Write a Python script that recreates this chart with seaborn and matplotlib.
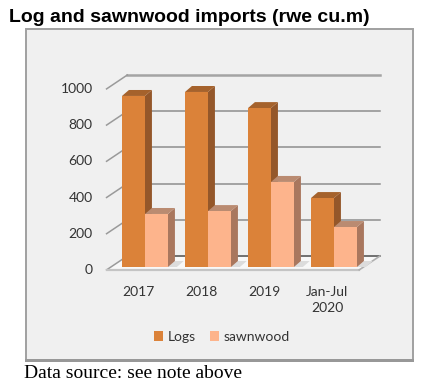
import matplotlib
matplotlib.use("Agg")
import pandas as pd
import seaborn as sns
import matplotlib.pyplot as plt
from matplotlib.patches import Rectangle
from matplotlib.transforms import ScaledTranslation

years = ["2017", "2018", "2019", "Jan-Jul\n2020"]
logs = [945, 967, 878, 381]
sawnwood = [293, 309, 470, 221]
y_ticks = [0, 200, 400, 600, 800, 1000]

# colours: front, side, top
logs_col = ["#db8239", "#94572a", "#a5622c"]
sawn_col = ["#fdb48c", "#a9775e", "#ba8b71"]

df = pd.DataFrame({"year": years * 2,
                   "value": logs + sawnwood,
                   "kind": ["Logs"] * 4 + ["sawnwood"] * 4})

W, H = 430, 390
fig = plt.figure(figsize=(W / 100, H / 100), dpi=100)
fig.patch.set_facecolor("white")

# grey panel behind the chart
fig.add_artist(Rectangle((25.5 / W, 1 - 360 / H), 387.5 / W, 331 / H,
                         transform=fig.transFigure, facecolor="#f0f0f0",
                         edgecolor="#a0a0a0", linewidth=1.4, zorder=-1))
# the bottom edge is heavier in the original
fig.add_artist(Rectangle((24.5 / W, 1 - 362 / H), 389.5 / W, 3 / H,
                         transform=fig.transFigure, facecolor="#989898",
                         edgecolor="none", zorder=-0.5))

# 63 px per category, 0.181 px per unit
ax = fig.add_axes([113.5 / W, 1 - 267 / H, 252 / W, 181 / H])
ax.patch.set_visible(False)

sns.barplot(data=df, x="year", y="value", hue="kind", ax=ax, width=0.73, gap=0,
            palette=[logs_col[0], sawn_col[0]], saturation=1, legend=False)

ax.set_xlim(-0.5, 3.5)
ax.set_ylim(0, 1000)

dx, dy = 0.11, 33      # depth of a bar
wall_x, wall_y = 0.33, 77   # depth of the floor
x0, x1 = -0.61, 3.40   # front floor edge
y0 = -16

# floor
ax.fill([x0, x1, x1 + wall_x, x0 + wall_x], [y0, y0, y0 + wall_y, y0 + wall_y],
        facecolor="#f8f8f8", edgecolor="none", clip_on=False, zorder=1)
ax.plot([x0 + wall_x, x1 + wall_x], [y0 + wall_y] * 2, color="#707070", lw=1.4, clip_on=False, zorder=1.2)
ax.plot([x0, x1], [y0, y0], color="#c4c4c4", lw=1.6, clip_on=False, zorder=1.2)
ax.plot([x1, x1 + wall_x], [y0, y0 + wall_y], color="#b0b0b0", lw=1.2, clip_on=False, zorder=1.2)

# back gridlines and the short diagonal bits on the left wall
for v in y_ticks:
    if v > 0:
        ax.plot([x0 + wall_x, x1 + wall_x], [v + y0 + wall_y] * 2, clip_on=False, zorder=1,
                color="#a4a4a4" if v == 1000 else "#8e8e8e", lw=1.8 if v == 1000 else 1.1)
    ax.plot([x0, x0 + wall_x], [v + y0, v + y0 + wall_y], color="#9a9a9a", lw=1.1,
            clip_on=False, zorder=1)

# side and top faces from the seaborn bars
for cont, cols, z in zip(ax.containers, [logs_col, sawn_col], [2, 3]):
    for p in cont:
        l, r, t = p.get_x(), p.get_x() + p.get_width(), p.get_height()
        p.set_zorder(4)
        ax.fill([r, r + dx, r + dx, r], [0, dy, t + dy, t], color=cols[1], lw=0, clip_on=False, zorder=z)
        ax.fill([l, l + dx, r + dx, r], [t, t + dy, t + dy, t], color=cols[2], lw=0, clip_on=False, zorder=z)
        ax.fill([r, r + 0.14, r + 0.25, r + dx], [0, 0, dy, dy], color="#dcdcdc", lw=0, clip_on=False, zorder=1.5)

for s in ax.spines.values():
    s.set_visible(False)
ax.set_xlabel("")
ax.set_ylabel("")
ax.set_yticks(y_ticks)
ax.set_yticklabels([str(v) for v in y_ticks])
ax.tick_params(length=0, labelsize=10, labelcolor="#333333", labelfontfamily="Lato")
ax.tick_params(axis="y", pad=15)
ax.tick_params(axis="x", pad=14)
for lab in ax.get_yticklabels():
    lab.set_transform(lab.get_transform() + ScaledTranslation(0, -2 / 100, fig.dpi_scale_trans))
for lab in ax.get_xticklabels():
    lab.set_transform(lab.get_transform() + ScaledTranslation(-7 / 100, 0, fig.dpi_scale_trans))
    lab.set_linespacing(1.4)

# legend
ax.legend(handles=[ax.containers[0][0], ax.containers[1][0]], labels=["Logs", "sawnwood"],
          ncol=2, frameon=False, loc="center", bbox_to_anchor=(222 / W, 1 - 337 / H),
          bbox_transform=fig.transFigure, handlelength=0.65, handleheight=0.65,
          handletextpad=0.35, columnspacing=1.0, borderpad=0,
          prop={"family": "Lato", "size": 10}, labelcolor="#333333")

fig.text(9 / W, 1 - 18 / H, "Log and sawnwood imports (rwe cu.m)", family="Liberation Sans",
         fontweight="bold", fontsize=14, color="black", va="center", ha="left")
fig.text(24 / W, 1 - 373 / H, "Data source: see note above", family="Liberation Serif",
         fontsize=14, color="black", va="center", ha="left")

fig.savefig("out.png", dpi=100)
